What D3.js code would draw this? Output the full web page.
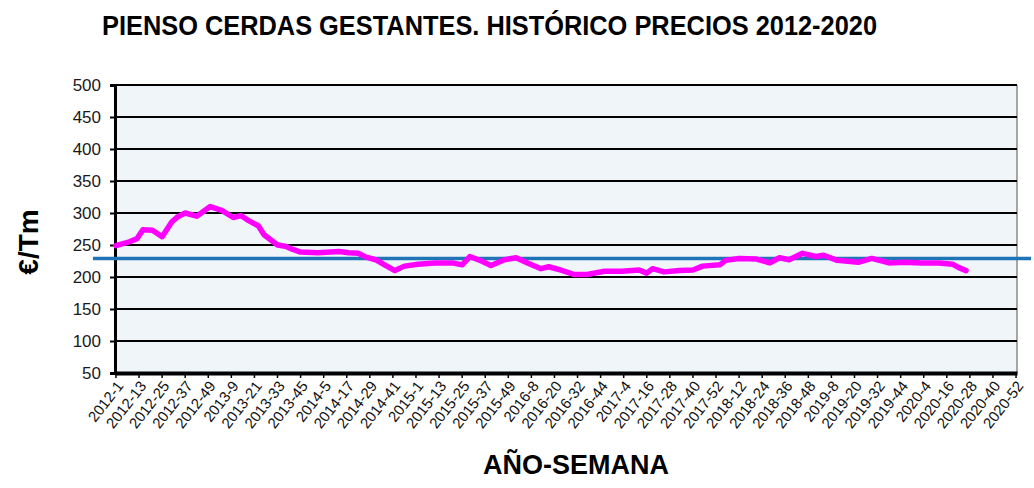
<!DOCTYPE html>
<html>
<head>
<meta charset="utf-8">
<script src="https://cdn.jsdelivr.net/npm/d3@7"></script>
<style>
  html, body { margin: 0; padding: 0; background: #ffffff; }
  svg { display: block; font-family: "Liberation Sans", Arial, sans-serif; }
</style>
</head>
<body>
<svg id="chart" width="1034" height="488"></svg>
<script>
// ---------- DATA ----------
const years = [2012, 2013, 2014, 2015, 2016, 2017, 2018, 2019, 2020];
const weeksPerYear = [52, 52, 52, 53, 52, 52, 52, 52, 52];

const tickLabels = [
  "2012-1","2012-13","2012-25","2012-37","2012-49","2013-9","2013-21","2013-33","2013-45",
  "2014-5","2014-17","2014-29","2014-41","2015-1","2015-13","2015-25","2015-37","2015-49",
  "2016-8","2016-20","2016-32","2016-44","2017-4","2017-16","2017-28","2017-40","2017-52",
  "2018-12","2018-24","2018-36","2018-48","2019-8","2019-20","2019-32","2019-44",
  "2020-4","2020-16","2020-28","2020-40","2020-52"
];

const priceWeeks = [
  "2012-1","2012-8","2012-12","2012-15","2012-20","2012-25","2012-30","2012-33","2012-37",
  "2012-43","2012-50","2013-4","2013-10","2013-14","2013-18","2013-23","2013-26","2013-33",
  "2013-37","2013-41","2013-45","2014-2","2014-13","2014-18","2014-23","2014-27","2014-32",
  "2014-36","2014-42","2014-47","2015-2","2015-11","2015-20","2015-25","2015-29","2015-35",
  "2015-40","2015-47","2015-53","2016-6","2016-13","2016-17","2016-23","2016-30","2016-37",
  "2016-46","2017-3","2017-12","2017-16","2017-19","2017-25","2017-33","2017-40","2017-45",
  "2018-2","2018-5","2018-12","2018-21","2018-28","2018-33","2018-38","2018-45","2018-52",
  "2019-4","2019-11","2019-22","2019-29","2019-38","2019-46","2020-3","2020-12","2020-19",
  "2020-22","2020-26"
];
const priceValues = [
  249, 255, 260, 274, 273, 263, 286, 294, 300,
  295, 310, 304, 293, 296, 288, 280, 266, 250,
  248, 243, 239, 238, 240, 238, 237, 231, 227,
  220, 210, 217, 220, 222, 222, 219, 232, 225,
  218, 227, 230, 222, 213, 216, 211, 204, 204,
  209, 209, 211, 206, 213, 208, 210, 211, 217,
  219, 226, 229, 228, 222, 230, 227, 237, 232,
  234, 226, 223, 229, 222, 223, 222, 222, 220,
  215, 210
];

const referenceValue = 229;
const yTicks = [50, 100, 150, 200, 250, 300, 350, 400, 450, 500];

const titleText = "PIENSO CERDAS GESTANTES. HISTÓRICO PRECIOS 2012-2020";
const yTitle = "€/Tm";
const xTitle = "AÑO-SEMANA";

// ---------- BUILD CATEGORIES ----------
const categories = [];
years.forEach((yr, i) => {
  for (let w = 1; w <= weeksPerYear[i]; w++) categories.push(yr + "-" + w);
});
const series = priceWeeks.map((w, i) => ({ week: w, value: priceValues[i] }));

// ---------- LAYOUT ----------
const svg = d3.select("#chart");
const pLeft = 115, pRight = 1017, pTop = 85, pBottom = 373;

const x = d3.scaleBand().domain(categories).range([pLeft, pRight]);
const xc = c => x(c) + x.bandwidth() / 2;
const y = d3.scaleLinear().domain([50, 500]).range([pBottom, pTop]);

// plot background
svg.append("rect")
  .attr("x", pLeft).attr("y", pTop)
  .attr("width", pRight - pLeft).attr("height", pBottom - pTop)
  .attr("fill", "#eff5f9");

// right border
svg.append("line")
  .attr("x1", pRight).attr("x2", pRight).attr("y1", pTop).attr("y2", pBottom)
  .attr("stroke", "#8a8a8a").attr("stroke-width", 1.5);

// gridlines
svg.append("g").selectAll("line")
  .data(yTicks.filter(v => v > 50))
  .join("line")
  .attr("x1", pLeft).attr("x2", pRight)
  .attr("y1", d => y(d)).attr("y2", d => y(d))
  .attr("stroke", "#000").attr("stroke-width", 2);

// y axis
const yAxis = svg.append("g")
  .attr("transform", `translate(${pLeft},0)`)
  .call(d3.axisLeft(y).tickValues(yTicks).tickSize(5).tickPadding(9).tickFormat(d3.format("d")));
yAxis.select(".domain").attr("stroke", "#000").attr("stroke-width", 3);
yAxis.selectAll(".tick line").attr("stroke", "#000").attr("stroke-width", 2);
yAxis.selectAll(".tick text")
  .attr("font-size", 17).attr("fill", "#1a1a1a")
  .attr("font-family", "Liberation Sans, Arial, sans-serif");

// x axis
const xAxis = svg.append("g")
  .attr("transform", `translate(0,${pBottom})`)
  .call(d3.axisBottom(x).tickValues(tickLabels).tickSize(5).tickSizeOuter(0));
xAxis.select(".domain").attr("stroke", "#000").attr("stroke-width", 4);
xAxis.selectAll(".tick line").attr("stroke", "#000").attr("stroke-width", 1.5);
xAxis.selectAll(".tick text")
  .attr("font-size", 15).attr("fill", "#111")
  .attr("font-family", "Liberation Sans, Arial, sans-serif")
  .attr("x", 0).attr("y", 0).attr("dy", "0.35em")
  .attr("text-anchor", "end")
  .attr("transform", "translate(4,10) rotate(-52)");

// reference (blue) line
svg.append("line")
  .attr("x1", 93).attr("x2", 1031)
  .attr("y1", y(referenceValue)).attr("y2", y(referenceValue))
  .attr("stroke", "#1f74b8").attr("stroke-width", 3.5);

// price line
const line = d3.line()
  .x(d => xc(d.week))
  .y(d => y(d.value));
svg.append("path")
  .datum(series)
  .attr("d", line)
  .attr("fill", "none")
  .attr("stroke", "#ff00ff")
  .attr("stroke-width", 5.5)
  .attr("stroke-linejoin", "round")
  .attr("stroke-linecap", "round");

// titles
svg.append("text")
  .attr("x", 102).attr("y", 35)
  .attr("font-size", 27).attr("font-weight", "bold").attr("fill", "#000")
  .attr("textLength", 775).attr("lengthAdjust", "spacingAndGlyphs")
  .text(titleText);

svg.append("text")
  .attr("transform", "translate(38,242) rotate(-90)")
  .attr("text-anchor", "middle")
  .attr("font-size", 28).attr("font-weight", "bold").attr("fill", "#000")
  .text(yTitle);

svg.append("text")
  .attr("x", 483).attr("y", 474)
  .attr("font-size", 28).attr("font-weight", "bold").attr("fill", "#000")
  .attr("textLength", 186).attr("lengthAdjust", "spacingAndGlyphs")
  .text(xTitle);
</script>
</body>
</html>
